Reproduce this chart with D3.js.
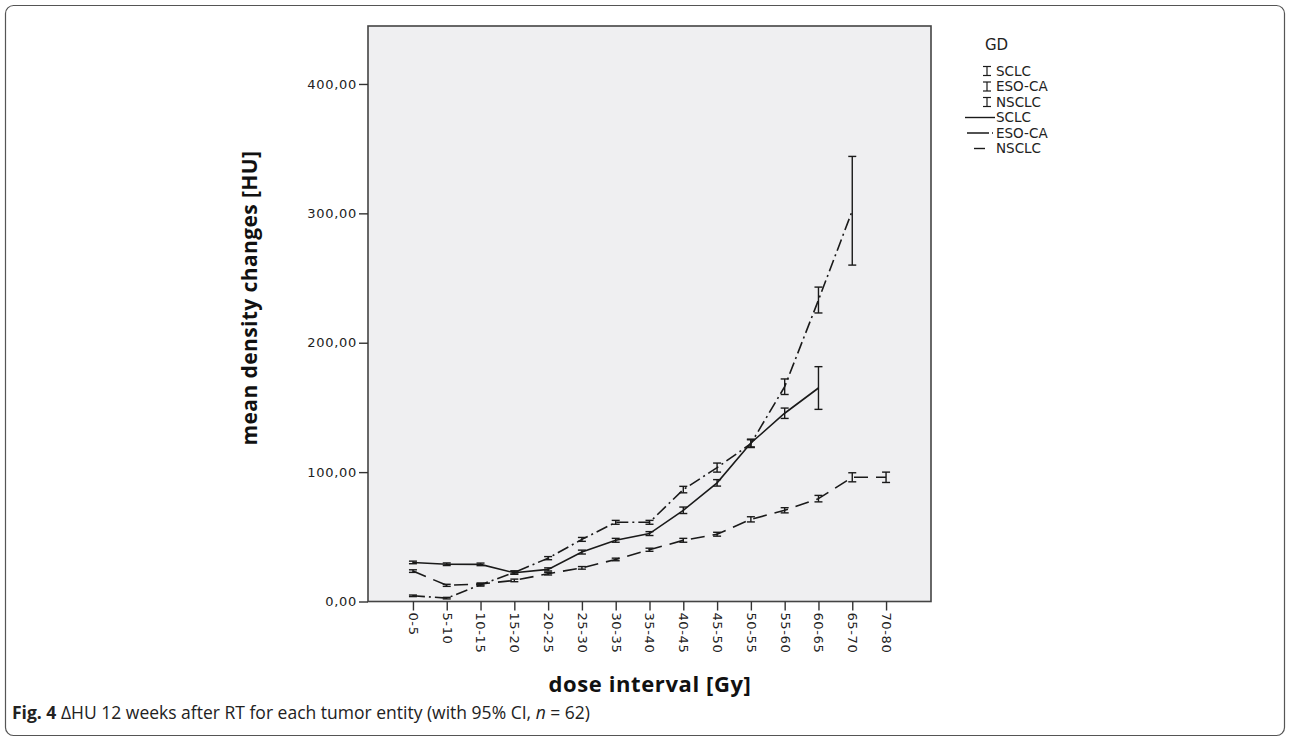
<!DOCTYPE html>
<html lang="en">
<head>
<meta charset="UTF-8">
<title>Density changes per dose interval</title>
<script src="https://d3js.org/d3.v7.min.js"></script>
<style>
    body { margin: 0; background: #fff; }
    .tick-label { font-family: "DejaVu Sans", sans-serif; font-size: 13px; fill: #222; }
    .axis-title { font-family: "Open Sans", sans-serif; font-weight: bold; fill: #111; }
    .legend text { font-family: "DejaVu Sans", sans-serif; font-size: 13.5px; fill: #222; }
    .caption { font-family: "Open Sans", sans-serif; font-size: 17.5px; fill: #222; }
</style>
</head>
<body>
<div id="chart"></div>
<script>
    const doseIntervals = ['0-5', '5-10', '10-15', '15-20', '20-25', '25-30', '30-35', '35-40',
        '40-45', '45-50', '50-55', '55-60', '60-65', '65-70', '70-80'];
    const entities = ['SCLC', 'ESO-CA', 'NSCLC'];

    // mean density change [HU] per interval, null = no data
    const sclcMean = [30.2, 28.8, 28.7, 22.2, 24.8, 38.2, 47.3, 52.5, 70.5, 91.7, 122.5, 145.5, 165.0, null, null];
    const esoMean = [4.4, 2.6, 12.9, 22.5, 33.5, 48.0, 61.2, 61.2, 86.5, 103.5, 122.0, 166.0, 233.0, 302.0, null];
    const nsclcMean = [23.5, 12.5, 13.5, 16.3, 21.5, 26.0, 32.5, 40.0, 47.3, 52.0, 63.5, 70.5, 79.5, 96.0, 96.0];

    // half width of the 95% CI
    const sclcCi = [1, 1, 1, 1.2, 1.2, 1.5, 1.5, 1.5, 2.5, 2.5, 3, 4, 16.5, null, null];
    const esoCi = [0.6, 0.6, 1, 1.2, 1.2, 1.5, 1.5, 1.5, 2.5, 3.5, 3, 6, 10, 42, null];
    const nsclcCi = [1, 0.8, 0.8, 1, 1, 1, 1, 1.2, 1.5, 1.5, 2, 2, 2.5, 3.5, 4];

    const yTicks = [0, 100, 200, 300, 400];

    const series = [
        { name: 'SCLC', mean: sclcMean, ci: sclcCi, dash: null },
        { name: 'ESO-CA', mean: esoMean, ci: esoCi, dash: '12,4,2,4' },
        { name: 'NSCLC', mean: nsclcMean, ci: nsclcCi, dash: '14,8' }
    ];

    const W = 1290, H = 741;
    const plot = { left: 368, top: 26, right: 931, bottom: 601.5 };

    const svg = d3.select('#chart').append('svg')
        .attr('width', W)
        .attr('height', H);

    // outer figure frame
    svg.append('rect')
        .attr('x', 5.5).attr('y', 5.5)
        .attr('width', W - 11).attr('height', H - 11)
        .attr('rx', 8)
        .attr('fill', 'none')
        .attr('stroke', '#555')
        .attr('stroke-width', 1.2);

    const x = d3.scalePoint()
        .domain(doseIntervals)
        .range([plot.left, plot.right])
        .padding(1.33);

    const y = d3.scaleLinear()
        .domain([0, 444.8])
        .range([plot.bottom, plot.top]);

    // plot background
    svg.append('rect')
        .attr('x', plot.left).attr('y', plot.top)
        .attr('width', plot.right - plot.left)
        .attr('height', plot.bottom - plot.top)
        .attr('fill', '#efeff1')
        .attr('stroke', '#444')
        .attr('stroke-width', 1.6);

    // y axis
    const yAxis = svg.append('g')
        .attr('transform', `translate(${plot.left},0)`)
        .call(d3.axisLeft(y).tickValues(yTicks).tickSize(9).tickPadding(2)
            .tickFormat(d => d3.format('.2f')(d).replace('.', ',')));
    yAxis.select('.domain').remove();
    yAxis.selectAll('line').attr('stroke', '#333').attr('stroke-width', 1.4);
    yAxis.selectAll('text').attr('class', 'tick-label').attr('font-size', null).attr('font-family', null)
        .attr('fill', null).style('letter-spacing', '0.7px');

    // x axis
    const xAxis = svg.append('g')
        .attr('transform', `translate(0,${plot.bottom})`)
        .call(d3.axisBottom(x).tickSize(9).tickSizeOuter(0));
    xAxis.select('.domain').remove();
    xAxis.selectAll('line').attr('stroke', '#333').attr('stroke-width', 1.4);
    xAxis.selectAll('text')
        .attr('class', 'tick-label')
        .attr('font-size', null).attr('font-family', null).attr('fill', null)
        .style('letter-spacing', '0.6px')
        .attr('text-anchor', 'start')
        .attr('transform', 'rotate(90)')
        .attr('x', 11)
        .attr('y', 0)
        .attr('dy', '0.35em');

    // lines
    const line = d3.line()
        .defined(d => d.v != null)
        .x(d => x(d.k))
        .y(d => y(d.v));

    series.forEach(s => {
        const pts = doseIntervals.map((k, i) => ({ k: k, v: s.mean[i], c: s.ci[i] }));
        svg.append('path')
            .datum(pts)
            .attr('d', line)
            .attr('fill', 'none')
            .attr('stroke', '#1a1a1a')
            .attr('stroke-width', 1.6)
            .attr('stroke-dasharray', s.dash);

        const bars = svg.append('g').selectAll('g')
            .data(pts.filter(d => d.v != null))
            .join('g');
        bars.append('line')
            .attr('x1', d => x(d.k)).attr('x2', d => x(d.k))
            .attr('y1', d => y(d.v - d.c)).attr('y2', d => y(d.v + d.c))
            .attr('stroke', '#1a1a1a').attr('stroke-width', 1.4);
        [-1, 1].forEach(sign => {
            bars.append('line')
                .attr('x1', d => x(d.k) - 4).attr('x2', d => x(d.k) + 4)
                .attr('y1', d => y(d.v + sign * d.c)).attr('y2', d => y(d.v + sign * d.c))
                .attr('stroke', '#1a1a1a').attr('stroke-width', 1.4);
        });
    });

    // axis titles
    svg.append('text')
        .attr('class', 'axis-title')
        .attr('font-size', 21)
        .style('letter-spacing', '0.4px')
        .attr('transform', 'translate(257,298) rotate(-90)')
        .attr('text-anchor', 'middle')
        .text('mean density changes [HU]');

    svg.append('text')
        .attr('class', 'axis-title')
        .attr('font-size', 22)
        .style('letter-spacing', '0.6px')
        .attr('x', 650)
        .attr('y', 692)
        .attr('text-anchor', 'middle')
        .text('dose interval [Gy]');

    // legend
    const legend = svg.append('g').attr('class', 'legend');
    legend.append('text')
        .attr('x', 985).attr('y', 50)
        .style('font-size', '15px')
        .text('GD');

    const rowY = d3.scaleLinear().domain([0, 1]).range([71, 86.5]);
    entities.forEach((name, i) => {
        const cy = rowY(i);
        const g = legend.append('g');
        g.append('line').attr('x1', 987).attr('x2', 987).attr('y1', cy - 4.5).attr('y2', cy + 4.5)
            .attr('stroke', '#1a1a1a').attr('stroke-width', 1.2);
        [-4.5, 4.5].forEach(o => g.append('line')
            .attr('x1', 983).attr('x2', 991).attr('y1', cy + o).attr('y2', cy + o)
            .attr('stroke', '#1a1a1a').attr('stroke-width', 1.2));
        g.append('text').attr('x', 996).attr('y', cy).attr('dy', '0.35em').text(name);
    });

    const lineSamples = [[965, 995], [967, 993], [974, 985]];
    series.forEach((s, i) => {
        const cy = rowY(i + 3);
        legend.append('line')
            .attr('x1', lineSamples[i][0]).attr('x2', lineSamples[i][1])
            .attr('y1', cy).attr('y2', cy)
            .attr('stroke', '#1a1a1a').attr('stroke-width', 1.4)
            .attr('stroke-dasharray', i === 1 ? '22,3,1.5,3' : null);
        legend.append('text').attr('x', 996).attr('y', cy).attr('dy', '0.35em').text(s.name);
    });

    // caption
    const cap = svg.append('text')
        .attr('class', 'caption')
        .attr('x', 12)
        .attr('y', 719);
    cap.append('tspan').attr('font-weight', 'bold').text('Fig. 4');
    cap.append('tspan').text(' \u0394HU 12 weeks after RT for each tumor entity (with 95% CI, ');
    cap.append('tspan').attr('font-style', 'italic').text('n');
    cap.append('tspan').text(' = 62)');
</script>
</body>
</html>
